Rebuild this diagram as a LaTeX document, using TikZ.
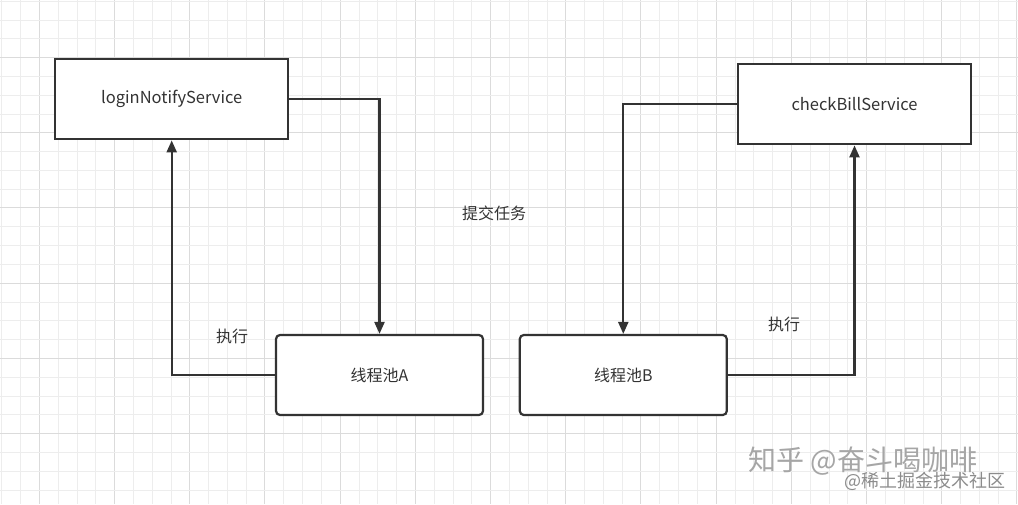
\documentclass[tikz,border=0pt]{standalone}
\usepackage{fontspec}
\newfontfamily\cjk{Noto Sans CJK SC}
\usetikzlibrary{arrows.meta}
\definecolor{ink}{HTML}{333333}
\definecolor{txt}{HTML}{333333}
\begin{document}
\begin{tikzpicture}[x=1pt,y=-1pt,
  minorline/.style={draw=black!7,line width=0.8pt},
  majorline/.style={draw=black!14,line width=0.9pt},
  svcbox/.style={draw=ink,line width=2.2pt,fill=white,minimum width=233pt,minimum height=80pt,font=\cjk\fontsize{16.5}{19}\selectfont,text=txt},
  poolbox/.style={draw=ink,line width=2.2pt,fill=white,rounded corners=4pt,minimum width=207pt,minimum height=80pt,font=\cjk\fontsize{16}{19}\selectfont,text=txt},
  conn/.style={draw=ink,line width=2.2pt,-{Triangle[length=12pt,width=10pt]}},
  lbl/.style={font=\cjk\fontsize{16}{19}\selectfont,text=txt},
  wm/.style={font=\cjk,text=black!35}]
\useasboundingbox (0,0) rectangle (1018,504);
\fill[white] (0,0) rectangle (1018,504);
% grid
\foreach \k in {-2,...,52} {
  \pgfmathsetmacro{\xx}{39.3+18.8*\k}
  \pgfmathtruncatemacro{\m}{mod(\k+100,4)}
  \ifnum\m=0 \draw[majorline] (\xx,0) -- (\xx,504); \else \draw[minorline] (\xx,0) -- (\xx,504); \fi
}
\foreach \k in {-3,...,24} {
  \pgfmathsetmacro{\yy}{57.5+18.8*\k}
  \pgfmathtruncatemacro{\m}{mod(\k+100,4)}
  \ifnum\m=0 \draw[majorline] (0,\yy) -- (1018,\yy); \else \draw[minorline] (0,\yy) -- (1018,\yy); \fi
}
% nodes
\node[svcbox] (login) at (171.7,99.3) {loginNotifyService};
\node[svcbox] (check) at (854.5,104.3) {checkBillService};
\node[poolbox] (poolA) at (379.5,375) {线程池A};
\node[poolbox] (poolB) at (623.3,375) {线程池B};
% connectors
\draw[conn] (login.east) -| (poolA.north);
\draw[conn] (poolA.west) -| (login.south);
\draw[conn] (check.west) -| (poolB.north);
\draw[conn] (poolB.east) -| (check.south);
% labels
\node[lbl] (submit) at (494,213) {提交任务};
\node[lbl] (execA) at (232,336) {执行};
\node[lbl] (execB) at (784,324) {执行};
% watermark
\node[wm,font=\cjk\fontsize{28}{30}\selectfont,anchor=west] (wm1) at (745,461) {知乎 @奋斗喝咖啡};
\node[wm,font=\cjk\fontsize{18}{20}\selectfont,anchor=west,text=black!45] (wm2) at (841,481) {@稀土掘金技术社区};
\end{tikzpicture}
\end{document}
